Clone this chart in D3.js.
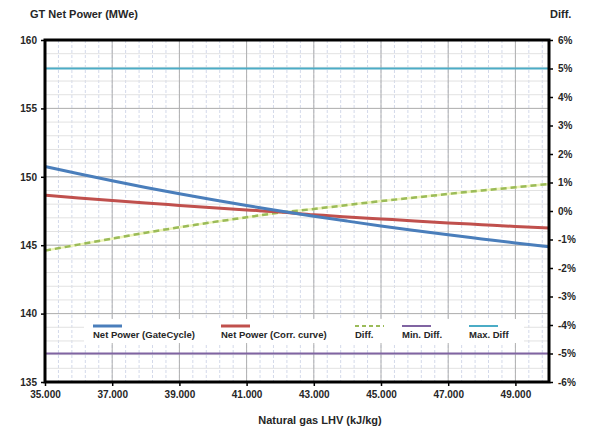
<!DOCTYPE html>
<html>
<head>
<meta charset="utf-8">
<script src="https://cdn.jsdelivr.net/npm/d3@7"></script>
<style>
  body { margin: 0; background: #fff; }
  svg text { font-family: "Liberation Sans", Arial, sans-serif; fill: #262626; }
</style>
</head>
<body>
<script>
// natural gas LHV (kJ/kg, thousands)
var lhv = [35, 36, 37, 38, 39, 40, 41, 42, 43, 44, 45, 46, 47, 48, 49, 50];
// net power, MWe
var netGateCycle = [150.75, 150.22, 149.71, 149.22, 148.76, 148.32, 147.90, 147.50, 147.12, 146.76, 146.41, 146.08, 145.76, 145.46, 145.16, 144.88];
var netCorrCurve = [148.65, 148.45, 148.26, 148.08, 147.91, 147.74, 147.58, 147.43, 147.22, 147.07, 146.92, 146.77, 146.63, 146.50, 146.37, 146.25];
// difference, %
var diffPct = [-1.39, -1.18, -0.97, -0.76, -0.57, -0.39, -0.22, -0.05, 0.07, 0.21, 0.35, 0.47, 0.60, 0.72, 0.83, 0.95];
var minDiff = [[35, -5], [50, -5]];
var maxDiff = [[35, 5], [50, 5]];

var xTicks = [35, 37, 39, 41, 43, 45, 47, 49];
var yLeftTicks = [135, 140, 145, 150, 155, 160];
var yRightTicks = [-6, -5, -4, -3, -2, -1, 0, 1, 2, 3, 4, 5, 6];

var W = 589, H = 430,
    pL = 45, pR = 549, pT = 40, pB = 382;

var svg = d3.select("body").append("svg")
    .attr("width", W)
    .attr("height", H);

var x = d3.scaleLinear().domain([35, 50]).range([pL, pR]);
var yL = d3.scaleLinear().domain([135, 160]).range([pB, pT]);
var yR = d3.scaleLinear().domain([-6, 6]).range([pB, pT]);

// minor grid
svg.append("g").selectAll("line")
    .data(d3.range(35, 50.01, 0.4))
    .enter().append("line")
    .attr("x1", function(d){ return x(d); })
    .attr("x2", function(d){ return x(d); })
    .attr("y1", pT).attr("y2", pB)
    .attr("stroke", "#d3d9ea").attr("stroke-width", 1)
    .attr("stroke-dasharray", "3,2");
svg.append("g").selectAll("line")
    .data(d3.range(135, 160, 1))
    .enter().append("line")
    .attr("y1", function(d){ return yL(d); })
    .attr("y2", function(d){ return yL(d); })
    .attr("x1", pL).attr("x2", pR)
    .attr("stroke", "#e2e2e2").attr("stroke-width", 1);

// major grid
svg.append("g").selectAll("line")
    .data(xTicks)
    .enter().append("line")
    .attr("x1", function(d){ return x(d); })
    .attr("x2", function(d){ return x(d); })
    .attr("y1", pT).attr("y2", pB)
    .attr("stroke", "#b0b0b0").attr("stroke-width", 1);
svg.append("g").selectAll("line")
    .data(yLeftTicks)
    .enter().append("line")
    .attr("y1", function(d){ return yL(d); })
    .attr("y2", function(d){ return yL(d); })
    .attr("x1", pL).attr("x2", pR)
    .attr("stroke", "#b0b0b0").attr("stroke-width", 1);

// series
var lineL = d3.line()
    .x(function(d){ return x(d[0]); })
    .y(function(d){ return yL(d[1]); })
    .curve(d3.curveMonotoneX);
var lineR = d3.line()
    .x(function(d){ return x(d[0]); })
    .y(function(d){ return yR(d[1]); });

svg.append("path").datum(minDiff)
    .attr("d", lineR).attr("fill", "none")
    .attr("stroke", "#8064a2").attr("stroke-width", 2);
svg.append("path").datum(maxDiff)
    .attr("d", lineR).attr("fill", "none")
    .attr("stroke", "#4bacc6").attr("stroke-width", 2);

var diffPts = lhv.map(function(v, i){ return [v, diffPct[i]]; });
svg.append("path").datum(diffPts)
    .attr("d", lineR).attr("fill", "none")
    .attr("stroke", "#eef5b8").attr("stroke-width", 2.5);
svg.append("path").datum(diffPts)
    .attr("d", lineR).attr("fill", "none")
    .attr("stroke", "#9bbb59").attr("stroke-width", 2.5)
    .attr("stroke-dasharray", "6,4");

svg.append("path").datum(lhv.map(function(v, i){ return [v, netCorrCurve[i]]; }))
    .attr("d", lineL).attr("fill", "none")
    .attr("stroke", "#c0504d").attr("stroke-width", 3);
svg.append("path").datum(lhv.map(function(v, i){ return [v, netGateCycle[i]]; }))
    .attr("d", lineL).attr("fill", "none")
    .attr("stroke", "#4a7ebb").attr("stroke-width", 3);

// legend
var legend = [
    {name: "Net Power (GateCycle)", color: "#4a7ebb", x: 93, dash: null, w: 3},
    {name: "Net Power (Corr. curve)", color: "#c0504d", x: 221, dash: null, w: 3},
    {name: "Diff.", color: "#9bbb59", x: 355, dash: "4,3", w: 2},
    {name: "Min. Diff.", color: "#8064a2", x: 402, dash: null, w: 2},
    {name: "Max. Diff", color: "#4bacc6", x: 469, dash: null, w: 2}
];
svg.append("rect")
    .attr("x", 84).attr("y", 319).attr("width", 440).attr("height", 24)
    .attr("fill", "#fff");
var lg = svg.append("g").selectAll("g")
    .data(legend)
    .enter().append("g");
lg.append("line")
    .attr("x1", function(d){ return d.x; })
    .attr("x2", function(d){ return d.x + 29; })
    .attr("y1", 326).attr("y2", 326)
    .attr("stroke", function(d){ return d.color; })
    .attr("stroke-width", function(d){ return d.w; })
    .attr("stroke-dasharray", function(d){ return d.dash; });
lg.append("text")
    .attr("x", function(d){ return d.x; })
    .attr("y", 338)
    .attr("font-size", "9.5px")
    .attr("font-weight", "bold")
    .text(function(d){ return d.name; });

// frame
svg.append("rect")
    .attr("x", pL).attr("y", pT)
    .attr("width", pR - pL).attr("height", pB - pT)
    .attr("fill", "none").attr("stroke", "#000").attr("stroke-width", 3);

// axes
var axL = svg.append("g")
    .attr("transform", "translate(" + (pL - 1) + ",0)")
    .call(d3.axisLeft(yL).tickValues(yLeftTicks).tickSize(3).tickPadding(4));
var axR = svg.append("g")
    .attr("transform", "translate(" + (pR + 1) + ",0)")
    .call(d3.axisRight(yR).tickValues(yRightTicks).tickSize(3).tickPadding(5)
        .tickFormat(function(d){ return d + "%"; }));
var axB = svg.append("g")
    .attr("transform", "translate(0," + (pB + 1) + ")")
    .call(d3.axisBottom(x).tickValues(xTicks).tickSize(3).tickPadding(5)
        .tickFormat(d3.format(".3f")));
[axL, axR, axB].forEach(function(a){
    a.select(".domain").remove();
    a.selectAll("line").attr("stroke", "#000").attr("stroke-width", 1.5);
    a.selectAll("text")
        .attr("font-size", "10px")
        .attr("font-weight", "bold")
        .attr("fill", "#333")
        .style("font-family", "\"Liberation Sans\", Arial, sans-serif");
});

// titles
svg.append("text")
    .attr("x", 30).attr("y", 18)
    .attr("font-size", "11px").attr("font-weight", "bold")
    .text("GT Net Power (MWe)");
svg.append("text")
    .attr("x", 550).attr("y", 18)
    .attr("font-size", "11px").attr("font-weight", "bold")
    .text("Diff.");
svg.append("text")
    .attr("x", 320).attr("y", 424)
    .attr("text-anchor", "middle")
    .attr("font-size", "11px").attr("font-weight", "bold")
    .text("Natural gas LHV (kJ/kg)");
</script>
</body>
</html>
